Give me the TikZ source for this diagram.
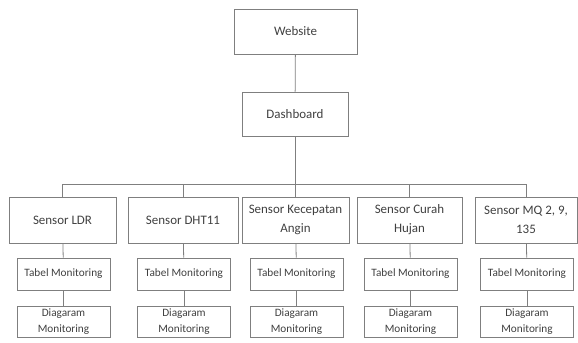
\documentclass[tikz,border=0pt]{standalone}
\usepackage{fontspec}
\setmainfont{Carlito}
\usetikzlibrary{positioning}
\definecolor{boxline}{HTML}{7F7F7F}
\definecolor{boxtext}{HTML}{404040}
\tikzset{
  x=1bp, y=-1bp,
  topbox/.style={draw=boxline,line width=0.8pt,inner sep=0pt,align=center,
                 text=boxtext,font=\fontsize{13}{19}\selectfont},
  subbox/.style={draw=boxline,line width=0.8pt,inner sep=0pt,align=center,
                 text=boxtext,font=\fontsize{11.3}{16}\selectfont,
                 minimum width=93bp},
  link/.style={draw=boxline,line width=0.8pt},
}
\begin{document}
\begin{tikzpicture}
  \useasboundingbox (0,0) rectangle (578,342);

  \node[topbox,minimum width=123bp,minimum height=45bp] (web) at (295.5,31.5) {Website};
  \node[topbox,minimum width=106bp,minimum height=44bp] (dash) at (295,114) {Dashboard};
  \coordinate (bus) at (295,184);

  % one column per sensor: index / x / width / label
  \foreach \i/\x/\w/\lbl in {1/62.5/107/{Sensor LDR},
                             2/183/110/{Sensor DHT11},
                             3/295.5/107/{Sensor Kecepatan\\Angin},
                             4/409.5/105/{Sensor Curah\\Hujan},
                             5/526/102/{Sensor MQ 2, 9,\\135}} {
    \node[topbox,minimum width=\w bp,minimum height=46bp] (s\i) at (\x,220) {\lbl};
    \node[subbox,minimum height=32bp] (t\i) at (\x+1,274) {Tabel Monitoring};
    \node[subbox,minimum height=31bp] (d\i) at (\x+1,321.5) {Diagaram\\Monitoring};
    \draw[link] (s\i.north) |- (bus);
    \draw[link] (s\i) -- (t\i);
    \draw[link] (t\i) -- (d\i);
  }

  \draw[link] (web) -- (dash);
  \draw[link] (dash) -- (bus);
\end{tikzpicture}
\end{document}
